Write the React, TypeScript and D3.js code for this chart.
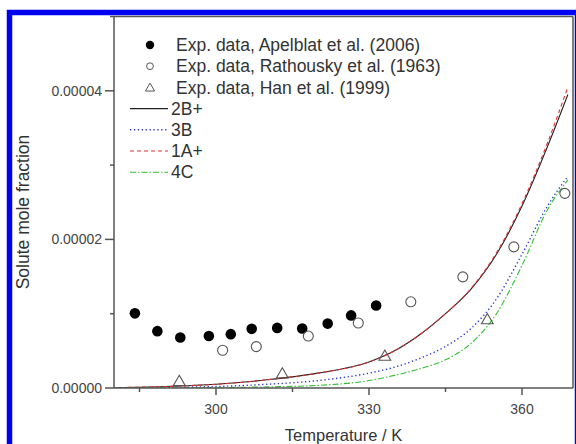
import React from "react";
import * as d3 from "d3";

// ---- data (mole fraction in units of 1e-5) ----
const T_APEL = [284.1, 288.5, 293.0, 298.6, 302.9, 307.0, 312.0, 316.9, 321.9, 326.5, 331.4];
const X_APEL = [1.005, 0.765, 0.68, 0.7, 0.725, 0.796, 0.809, 0.8, 0.867, 0.977, 1.11];

const T_RATH = [301.3, 307.9, 318.1, 327.9, 338.2, 348.4, 358.4, 368.4];
const X_RATH = [0.508, 0.557, 0.699, 0.875, 1.16, 1.496, 1.9, 2.62];

const T_HAN = [292.8, 313.0, 333.1, 353.2];
const X_HAN = [0.08, 0.18, 0.42, 0.91];

const T_CURVE = [280, 290, 300, 310, 320, 330, 335, 340, 345, 350, 355, 360, 365, 369];
const C_2B = [0.005, 0.02, 0.05, 0.11, 0.2, 0.35, 0.5, 0.72, 1.0, 1.33, 1.8, 2.45, 3.25, 3.95];
const C_3B = [0.002, 0.008, 0.02, 0.05, 0.1, 0.2, 0.28, 0.4, 0.56, 0.8, 1.2, 1.8, 2.45, 2.85];
const C_1A = [0.005, 0.02, 0.05, 0.11, 0.2, 0.35, 0.5, 0.72, 1.0, 1.34, 1.82, 2.48, 3.3, 4.05];
const C_4C = [0.0, 0.002, 0.006, 0.015, 0.035, 0.1, 0.17, 0.26, 0.38, 0.6, 1.0, 1.65, 2.4, 2.8];

const X_MAJOR = [300, 330, 360];
const X_MINOR = [285, 315, 345];
const Y_MAJOR = [0, 2, 4];
const Y_MINOR = [1, 3, 5];
const Y_LABELS = ["0.00000", "0.00002", "0.00004"];

const LEGEND_MARKERS = [
  "Exp. data, Apelblat et al. (2006)",
  "Exp. data, Rathousky et al. (1963)",
  "Exp. data, Han et al. (1999)",
];
const LEGEND_LINES = ["2B+", "3B", "1A+", "4C"];

const FONT = "'Liberation Sans', Arial, Helvetica, sans-serif";

export default function App() {
  const W = 576;
  const H = 444;
  const L = 114, R = 573, TOP = 16.5, BOT = 388;
  const x = d3.scaleLinear().domain([280, 370]).range([L, R]);
  const y = d3.scaleLinear().domain([0, 5]).range([BOT, TOP]);
  const axisColor = "#555";
  const textColor = "#333";

  const mk = (vals: number[]) =>
    d3
      .line<number>()
      .x((_, i) => x(T_CURVE[i]))
      .y((v) => y(v))
      .curve(d3.curveMonotoneX)(vals) as string;

  const series = [
    { name: LEGEND_LINES[0], vals: C_2B, color: "#222", dash: "none", w: 1.1 },
    { name: LEGEND_LINES[1], vals: C_3B, color: "#2a35d8", dash: "1.3,2.6", w: 1.4 },
    { name: LEGEND_LINES[2], vals: C_1A, color: "#e03030", dash: "4,3", w: 1.1 },
    { name: LEGEND_LINES[3], vals: C_4C, color: "#30c030", dash: "6,2,1.5,2", w: 1.1 },
  ];

  const tri = d3.symbol().type(d3.symbolTriangle).size(60)() as string;
  const triSmall = d3.symbol().type(d3.symbolTriangle).size(36)() as string;

  const legY0 = 45;
  const legDY = 21.2;

  return (
    <svg
      width={W}
      height={H}
      style={{ position: "absolute", left: 0, top: 0, background: "#fff" }}
      fontFamily={FONT}
    >
      <rect x={0} y={0} width={W} height={H} fill="#fff" />
      <rect x={9.5} y={12.5} width={568} height={H + 10} fill="#fff" stroke="#0000f0" strokeWidth={5.5} />

      {/* plot frame */}
      <line x1={L} x2={R} y1={TOP} y2={TOP} stroke={axisColor} strokeWidth={1.5} />
      <line x1={R} x2={R} y1={TOP} y2={BOT} stroke={axisColor} strokeWidth={1.5} />

      {/* curves */}
      <g clipPath="url(#clip)">
        <defs>
          <clipPath id="clip">
            <rect x={L} y={TOP} width={R - L} height={BOT - TOP} />
          </clipPath>
        </defs>
        {series.map((s) => (
          <path key={s.name} d={mk(s.vals)} fill="none" stroke={s.color} strokeWidth={s.w} strokeDasharray={s.dash} />
        ))}
      </g>

      {/* axes */}
      <line x1={L} x2={L} y1={TOP} y2={BOT} stroke={axisColor} strokeWidth={1.5} />
      <line x1={L} x2={R} y1={BOT} y2={BOT} stroke={axisColor} strokeWidth={1.5} />
      {X_MAJOR.map((t) => (
        <g key={"xM" + t}>
          <line x1={x(t)} x2={x(t)} y1={BOT} y2={BOT + 7} stroke={axisColor} strokeWidth={1.5} />
          <text x={x(t)} y={413.5} textAnchor="middle" fontSize={14} fill="#444">
            {t}
          </text>
        </g>
      ))}
      {X_MINOR.map((t) => (
        <line key={"xm" + t} x1={x(t)} x2={x(t)} y1={BOT} y2={BOT + 4} stroke={axisColor} strokeWidth={1.5} />
      ))}
      {Y_MAJOR.map((v, i) => (
        <g key={"yM" + v}>
          <line x1={L - 9} x2={L} y1={y(v)} y2={y(v)} stroke={axisColor} strokeWidth={1.5} />
          <text x={L - 12} y={y(v)} dy="0.35em" textAnchor="end" fontSize={14} fill="#444">
            {Y_LABELS[i]}
          </text>
        </g>
      ))}
      {Y_MINOR.map((v) => (
        <line key={"ym" + v} x1={L - 4} x2={L} y1={y(v)} y2={y(v)} stroke={axisColor} strokeWidth={1.5} />
      ))}

      {/* axis titles */}
      <text x={(L + R) / 2} y={441} textAnchor="middle" fontSize={16.5} fill={textColor}>
        Temperature / K
      </text>
      <text
        transform={`translate(29, 212) rotate(-90)`}
        textAnchor="middle"
        fontSize={17.5}
        fill={textColor}
      >
        Solute mole fraction
      </text>

      {/* data points */}
      {T_APEL.map((t, i) => (
        <circle key={"a" + i} cx={x(t)} cy={y(X_APEL[i])} r={5.3} fill="#000" />
      ))}
      {T_RATH.map((t, i) => (
        <circle key={"r" + i} cx={x(t)} cy={y(X_RATH[i])} r={5} fill="none" stroke="#555" strokeWidth={1.1} />
      ))}
      {T_HAN.map((t, i) => (
        <path
          key={"h" + i}
          d={tri}
          transform={`translate(${x(t)},${y(X_HAN[i])})`}
          fill="none"
          stroke="#555"
          strokeWidth={1.1}
        />
      ))}

      {/* legend */}
      <circle cx={150} cy={legY0} r={4.2} fill="#000" />
      <circle cx={150} cy={legY0 + legDY} r={3.4} fill="none" stroke="#555" strokeWidth={1} />
      <path d={triSmall} transform={`translate(150,${legY0 + 2 * legDY + 1})`} fill="none" stroke="#555" strokeWidth={1} />
      {LEGEND_MARKERS.map((name, i) => (
        <text key={name} x={176} y={legY0 + i * legDY} dy="0.35em" fontSize={17.5} fill={textColor}>
          {name}
        </text>
      ))}
      {series.map((s, i) => (
        <g key={"leg" + s.name}>
          <line
            x1={130}
            x2={168}
            y1={legY0 + (3 + i) * legDY}
            y2={legY0 + (3 + i) * legDY}
            stroke={s.color}
            strokeWidth={s.w}
            strokeDasharray={s.dash}
          />
          <text x={171} y={legY0 + (3 + i) * legDY} dy="0.35em" fontSize={17.5} fill={textColor}>
            {s.name}
          </text>
        </g>
      ))}
    </svg>
  );
}
